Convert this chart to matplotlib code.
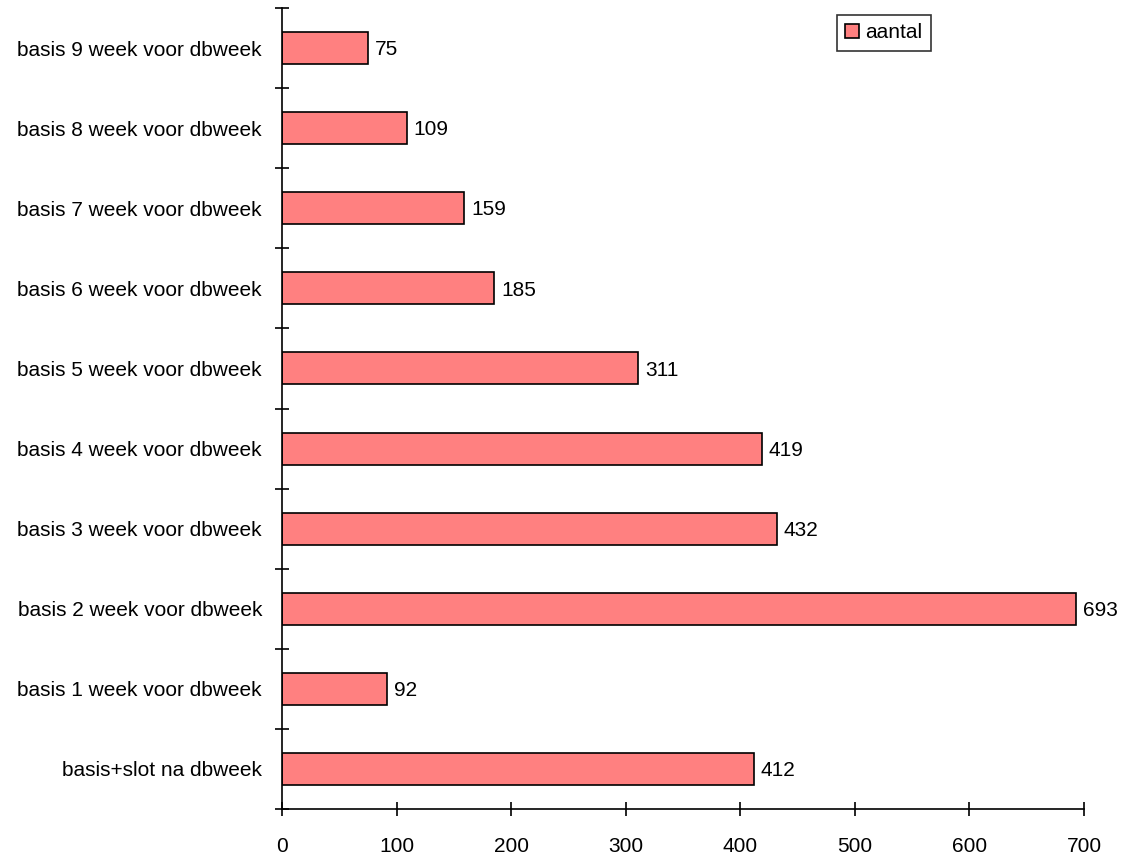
import matplotlib
matplotlib.use("Agg")
import matplotlib.pyplot as plt
import numpy as np

categories = ["basis+slot na dbweek", "basis 1 week voor dbweek", "basis 2 week voor dbweek",
              "basis 3 week voor dbweek", "basis 4 week voor dbweek", "basis 5 week voor dbweek",
              "basis 6 week voor dbweek", "basis 7 week voor dbweek", "basis 8 week voor dbweek",
              "basis 9 week voor dbweek"]
values = [412, 92, 693, 432, 419, 311, 185, 159, 109, 75]
series_name = "aantal"
xticks = [0, 100, 200, 300, 400, 500, 600, 700]

plt.rcParams['font.family'] = ['Liberation Sans', 'DejaVu Sans']
FS = 15

W, H = 1137, 857
fig = plt.figure(figsize=(W/100, H/100), dpi=100)
ax = fig.add_axes([282/W, 1-809/H, (1084-282)/W, (809-8)/H])

y = np.arange(len(categories))
bars = ax.barh(y, values, height=0.4, color="#FF8080", edgecolor="black", linewidth=1.2, label=series_name)
for yi, v in zip(y, values):
    ax.annotate(str(v), (v, yi), xytext=(5, -1.2), textcoords="offset points",
                va="center", ha="left", fontsize=FS)

ax.set_xlim(0, 700)
ax.set_ylim(-0.5, len(categories) - 0.5)
ax.set_xticks(xticks)
ax.set_xticklabels([str(t) for t in xticks], fontsize=FS)
ax.set_yticks(np.arange(-0.5, len(categories), 1.0))
ax.set_yticklabels([])
ax.set_yticks(y, minor=True)
ax.set_yticklabels(categories, minor=True, fontsize=FS)
ax.tick_params(axis='y', which='major', direction='inout', length=9.5, width=1.2)
ax.tick_params(axis='y', which='minor', length=0, pad=14.4)
ax.tick_params(axis='x', which='major', direction='inout', length=10, width=1.2, pad=15)
for s in ['top', 'right']:
    ax.spines[s].set_visible(False)
for s in ['left', 'bottom']:
    ax.spines[s].set_linewidth(1.2)

leg = ax.legend(loc='upper left', bbox_to_anchor=(837/W, 1-15/H), bbox_transform=fig.transFigure,
                fontsize=FS, frameon=True, fancybox=False, handlelength=0.65, handleheight=0.65,
                handletextpad=0.3, borderpad=0.4, borderaxespad=0)
leg.get_frame().set_edgecolor('black')
leg.get_frame().set_linewidth(1.2)

fig.savefig("out.png", dpi=100)
